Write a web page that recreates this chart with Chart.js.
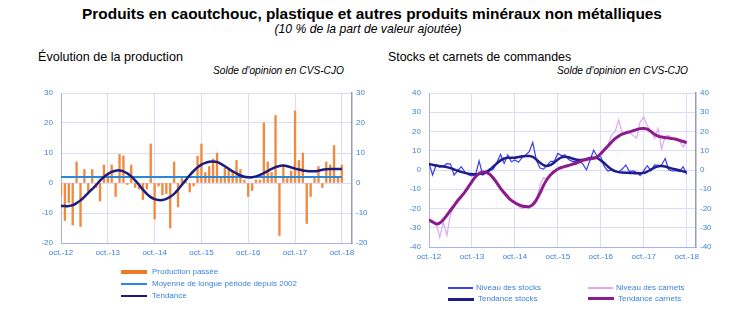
<!DOCTYPE html>
<html>
<head>
<meta charset="utf-8">
<script src="https://cdn.jsdelivr.net/npm/chart.js@4.4.0/dist/chart.umd.min.js"></script>
<style>
body { margin: 0; background: #fff; font-family: "Liberation Sans", Arial, sans-serif; }
#page { position: relative; width: 750px; height: 330px; overflow: hidden; }
.txt { position: absolute; white-space: nowrap; color: #000; }
.leg { position: absolute; white-space: nowrap; font-size: 8px; line-height: 12px; color: #3d82dc; }
.swatch { position: absolute; }
canvas { position: absolute; }
</style>
</head>
<body>
<div id="page">
    <div class="txt" style="left:372px; top:5px; transform:translateX(-50%); font-weight:bold; font-size:15.4px; line-height:17px;">Produits en caoutchouc, plastique et autres produits minéraux non métalliques</div>
    <div class="txt" style="left:368px; top:22px; transform:translateX(-50%); font-style:italic; font-size:12.2px; line-height:14px;">(10 % de la part de valeur ajoutée)</div>

    <div class="txt" style="left:38px; top:50px; font-size:12.6px; line-height:14px;">Évolution de la production</div>
    <div class="txt" style="right:406px; top:65px; font-style:italic; font-size:10.2px; line-height:12px;">Solde d'opinion en CVS-CJO</div>
    <div class="txt" style="left:388px; top:50px; font-size:12.4px; line-height:14px;">Stocks et carnets de commandes</div>
    <div class="txt" style="right:62px; top:65px; font-style:italic; font-size:10.2px; line-height:12px;">Solde d'opinion en CVS-CJO</div>

    <canvas id="production" width="375" height="190" style="left:0; top:80px;"></canvas>
    <canvas id="stocks" width="375" height="190" style="left:375px; top:80px;"></canvas>

    <div class="swatch" style="left:121px; top:270px; width:26px; height:4px; background:#ec7a26;"></div>
    <div class="leg" style="left:152px; top:266px;">Production passée</div>
    <div class="swatch" style="left:121px; top:283px; width:26px; height:2px; background:#2a8ad8;"></div>
    <div class="leg" style="left:152px; top:278px;">Moyenne de longue période depuis 2002</div>
    <div class="swatch" style="left:121px; top:295px; width:26px; height:2px; background:#1c1c7c;"></div>
    <div class="leg" style="left:152px; top:290px;">Tendance</div>

    <div class="swatch" style="left:448px; top:287px; width:25px; height:1.5px; background:#4040f0;"></div>
    <div class="leg" style="left:476px; top:282px;">Niveau des stocks</div>
    <div class="swatch" style="left:448px; top:298px; width:26px; height:3px; background:#1e1e88;"></div>
    <div class="leg" style="left:478px; top:293px;">Tendance stocks</div>
    <div class="swatch" style="left:588px; top:287px; width:25px; height:1.5px; background:#dcaaf2;"></div>
    <div class="leg" style="left:616px; top:282px;">Niveau des carnets</div>
    <div class="swatch" style="left:588px; top:297px; width:26px; height:3px; background:#8c1c8c;"></div>
    <div class="leg" style="left:618px; top:293px;">Tendance carnets</div>
</div>

<script>
// one tick per year, first month = oct. 2012
const x_labels = ['oct.-12', 'oct.-13', 'oct.-14', 'oct.-15', 'oct.-16', 'oct.-17', 'oct.-18'];

// Évolution de la production (monthly, oct-12 .. oct-18)
const production_passee = [
    -4, -12.5, -6.5, -14, 7, -14.5, 4.5, -3, 4.5, -1.5,
    -6, 6, 3, 6, -4.5, 9.5, 9, -0.5, 6, -1.5,
    -2, -5.5, -2, 13, -12, -1, -4, -3.5, -15, 7,
    -8, 1.5, 0.5, -3, -1, 9, 13, 3.5, 5.5, 8,
    10, 2, 5, 4.5, 3.5, 7.5, 4.5, 1, -4.5, -2.5,
    1, 1, 20, 7, 3.5, 22.5, -17.5, 6, 1.5, 4,
    24, 7.5, 10, -13.5, -4.5, 1.5, 5.5, -1.5, 7, 6,
    12.5, 2, 6
];
const moyenne_longue_periode = 2;
const tendance_production = [
    -7.7, -7.7, -7.7, -7.4, -6.7, -5.8, -4.6, -3.3, -2, -0.7,
    0.8, 2, 3, 3.7, 4.1, 4.2, 3.9, 3.2, 2.2, 0.9,
    -0.6, -2.2, -3.6, -4.7, -5.4, -5.7, -5.7, -5.3, -4.6, -3.6,
    -2.2, -0.6, 1, 2.6, 4, 5.2, 6.1, 6.7, 7.1, 7.2,
    7, 6.4, 5.6, 4.7, 3.9, 3.2, 2.5, 2.1, 1.9, 1.9,
    2.2, 2.7, 3.3, 4, 4.7, 5.3, 5.7, 5.8, 5.6, 5.2,
    4.8, 4.5, 4.2, 4, 3.9, 3.9, 4.1, 4.4, 4.6, 4.7,
    4.7, 4.7, 4.7
];

// Stocks et carnets de commandes
const niveau_stocks = [
    3.5, -2.6, 2.6, 1.5, 2, 3.3, 3.1, -2.6, -0.5, 1.7,
    -1, -2.5, -3, -2.6, 4.7, -2.6, -1.5, -0.5, 0.5, 4,
    8.1, 3.4, 7.8, 4.3, 5.2, 4, 6.4, 7.8, 9.5, 14.3,
    5, 1, 0.5, 2.5, 4.5, 4.5, 8.6, 7.5, 7.8, 5.5,
    4.5, 4.5, 5, 3, 0, 5.2, 10.3, 7, 6.9, 1.7,
    -0.5, 0, -0.8, -1, 0.5, 2.6, -0.8, -0.5, -1.2, -2.9,
    -0.3, 2.2, -0.5, 2.6, 2.4, 2.6, 6, 0, -0.5, -0.4,
    -0.8, 1.7, -2.2
];
const tendance_stocks = [
    3.2, 2.7, 2.3, 2, 1.8, 1.5, 1, 0.3, -0.4, -1,
    -1.5, -1.9, -2.1, -2.2, -2.1, -1.7, -1, 0.2, 1.8, 3.5,
    5, 6, 6.3, 6.3, 6.4, 6.7, 7.1, 7.3, 7.3, 6.8,
    5.5, 3.8, 2.5, 2.1, 2.6, 3.9, 5.4, 6.6, 6.9, 6.6,
    6, 5.5, 5.2, 5.3, 5.7, 6.2, 6.4, 6.2, 5, 3.5,
    1.8, 0.3, -0.6, -1.1, -1.3, -1.4, -1.5, -1.6, -1.7, -1.7,
    -1.5, -0.8, 0.2, 1.2, 1.9, 2.1, 1.8, 1.2, 0.7, 0.3,
    -0.2, -0.7, -1.2
];
const niveau_carnets = [
    -26, -26.5, -27.5, -35, -27, -34, -23, -19, -15, -13.5,
    -11, -9, -6, -3, -2, -1, -0.5, -2, -5, -7,
    -10, -12.5, -13, -16, -16.5, -19, -20, -19.5, -20, -17,
    -16, -8, -4, -5, -2, -0.5, 1, 1, 2.5, 2,
    3.5, 3, 4.5, 5, 6, 5.5, 6.5, 6.5, 8.5, 11,
    13, 18, 20, 26, 19, 19, 19.5, 18, 16.5, 25,
    27.5, 23, 20, 16.5, 21.5, 11, 17.5, 18, 16, 16,
    15, 12, 14.5
];
const tendance_carnets = [
    -25.9, -27, -28, -27.5, -25.8, -23.5, -21, -18.5, -16, -13.8,
    -11.5, -8.8, -6, -3.5, -1.8, -1.1, -1.2, -2.3, -4.3, -6.8,
    -9.5, -11.8, -14, -15.8, -17, -18, -18.7, -19, -19, -18,
    -15.5, -12, -8, -4.8, -2.5, -0.8, 0.5, 1.3, 1.9, 2.4,
    2.9, 3.5, 4.2, 5, 5.5, 5.8, 6.1, 6.8, 8.5, 10.5,
    12.5, 14.5, 16.3, 17.6, 18.6, 19.3, 19.8, 20.4, 21, 21.5,
    21.6, 21.2, 20, 18.6, 17.6, 17.1, 16.8, 16.6, 16.3, 16,
    15.4, 14.8, 14.3
];

const tick_font = { family: 'Liberation Sans', size: 8 };
const tick_color = '#3f80d8';
const grid_color = '#dcdcfa';
const border_color = '#aab0f0';

function to_points(values) {
    return values.map((v, i) => ({ x: i, y: v }));
}

function make_scales(y_min, y_max, left_width, right_width, x_height) {
    return {
        x: {
            type: 'linear',
            min: 0,
            max: 74.6,
            offset: false,
            // one tick every 12 months, labelled from x_labels
            afterBuildTicks: scale => {
                scale.ticks = x_labels.map((label, i) => ({ value: i * 12 }));
            },
            afterFit: scale => { scale.height = x_height; },
            ticks: {
                autoSkip: false,
                maxRotation: 0,
                padding: 5,
                font: tick_font,
                color: tick_color,
                callback: value => x_labels[Math.round(value / 12)]
            },
            grid: { color: grid_color, drawTicks: false, offset: false },
            border: { color: border_color }
        },
        y: {
            min: y_min,
            max: y_max,
            afterFit: scale => { scale.width = left_width; },
            ticks: { stepSize: 10, padding: 8, font: tick_font, color: tick_color },
            grid: { color: grid_color, drawTicks: false },
            border: { color: border_color }
        },
        y_right: {
            position: 'right',
            min: y_min,
            max: y_max,
            afterFit: scale => { scale.width = right_width; },
            ticks: { stepSize: 10, padding: 4, font: tick_font, color: tick_color },
            grid: { drawOnChartArea: false, drawTicks: false },
            border: { color: '#9a9ab4', width: 1.5 }
        }
    };
}

function base_options(scales) {
    return {
        responsive: false,
        animation: false,
        devicePixelRatio: 1,
        layout: { padding: { top: 13, left: 0, right: 0, bottom: 0 } },
        scales: scales,
        plugins: {
            legend: { display: false },
            tooltip: { enabled: false }
        }
    };
}

new Chart(document.getElementById('production'), {
    type: 'bar',
    data: {
        datasets: [
            {
                type: 'line',
                label: 'Tendance',
                data: to_points(tendance_production),
                borderColor: '#1c1c7c',
                borderWidth: 2.5,
                pointRadius: 0,
                tension: 0.3,
                order: 1
            },
            {
                type: 'line',
                label: 'Moyenne de longue période depuis 2002',
                data: production_passee.map((v, i) => ({ x: i, y: moyenne_longue_periode })),
                borderColor: '#2a8ad8',
                borderWidth: 2,
                pointRadius: 0,
                order: 2
            },
            {
                type: 'bar',
                label: 'Production passée',
                data: to_points(production_passee),
                backgroundColor: '#f08a40',
                barThickness: 1.7,
                order: 3
            }
        ]
    },
    options: base_options(make_scales(-20, 30, 61, 23, 27))
});

new Chart(document.getElementById('stocks'), {
    type: 'line',
    data: {
        datasets: [
            {
                label: 'Tendance carnets',
                data: to_points(tendance_carnets),
                borderColor: '#8c1c8c',
                borderWidth: 3,
                pointRadius: 0,
                tension: 0.3,
                order: 1
            },
            {
                label: 'Tendance stocks',
                data: to_points(tendance_stocks),
                borderColor: '#1e1e88',
                borderWidth: 2.5,
                pointRadius: 0,
                tension: 0.3,
                order: 2
            },
            {
                label: 'Niveau des stocks',
                data: to_points(niveau_stocks),
                borderColor: '#3c3cf2',
                borderWidth: 1.2,
                pointRadius: 0,
                order: 3
            },
            {
                label: 'Niveau des carnets',
                data: to_points(niveau_carnets),
                borderColor: '#dcaaf2',
                borderWidth: 1.2,
                pointRadius: 0,
                order: 4
            }
        ]
    },
    options: base_options(make_scales(-40, 40, 54, 54, 23))
});
</script>
</body>
</html>
